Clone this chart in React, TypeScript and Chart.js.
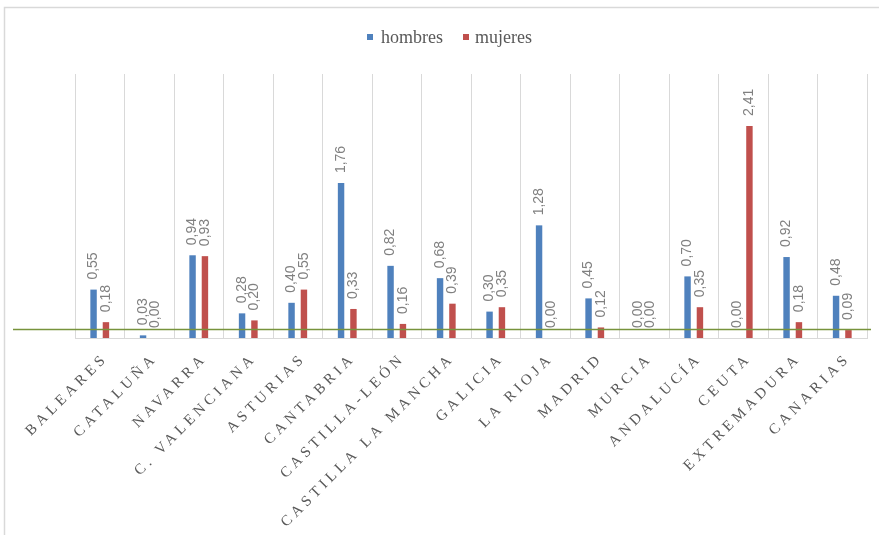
import React, { useEffect, useRef } from "react";
import { Chart, registerables } from "chart.js";

Chart.register(...registerables);

const categories = [
  "BALEARES", "CATALUÑA", "NAVARRA", "C. VALENCIANA", "ASTURIAS", "CANTABRIA",
  "CASTILLA-LEÓN", "CASTILLA LA MANCHA", "GALICIA", "LA RIOJA", "MADRID",
  "MURCIA", "ANDALUCÍA", "CEUTA", "EXTREMADURA", "CANARIAS",
];
const hombres = [0.55, 0.03, 0.94, 0.28, 0.40, 1.76, 0.82, 0.68, 0.30, 1.28, 0.45, 0.00, 0.70, 0.00, 0.92, 0.48];
const mujeres = [0.18, 0.00, 0.93, 0.20, 0.55, 0.33, 0.16, 0.39, 0.35, 0.00, 0.12, 0.00, 0.35, 2.41, 0.18, 0.09];
const seriesNames = ["hombres", "mujeres"];
const referenceValue = 0.1;
const yMax = 3;

const BLUE = "#4F81BD";
const RED = "#C0504D";

const fmt = (v: number) => v.toFixed(2).replace(".", ",");

const decorPlugin = {
  id: "decor",
  beforeDraw(chart: any) {
    const ctx = chart.ctx;
    ctx.save();
    ctx.fillStyle = "#ffffff";
    ctx.fillRect(0, 0, chart.width, chart.height);
    ctx.strokeStyle = "#d9d9d9";
    ctx.lineWidth = 1.5;
    ctx.strokeRect(4.5, 7.5, chart.width + 20, chart.height + 20);
    ctx.restore();
  },
  afterDraw(chart: any) {
    const ctx = chart.ctx;
    const x = chart.scales.x;
    const y = chart.scales.y;
    ctx.save();
    // data labels
    ctx.font = "14px 'Liberation Sans', Arial, sans-serif";
    ctx.fillStyle = "#808080";
    ctx.textAlign = "left";
    ctx.textBaseline = "middle";
    chart.data.datasets.forEach((ds: any, di: number) => {
      const meta = chart.getDatasetMeta(di);
      meta.data.forEach((bar: any, i: number) => {
        ctx.save();
        ctx.translate(bar.x, bar.y - 10);
        ctx.rotate(-Math.PI / 2);
        ctx.fillText(fmt(ds.data[i]), 0, 0);
        ctx.restore();
      });
    });
    // reference line
    const ry = Math.round(y.getPixelForValue(referenceValue)) + 0.5;
    ctx.strokeStyle = "#77933C";
    ctx.lineWidth = 1.5;
    ctx.beginPath();
    ctx.moveTo(13, ry);
    ctx.lineTo(871, ry);
    ctx.stroke();
    // category labels
    ctx.font = "15px 'Liberation Serif', 'Times New Roman', serif";
    (ctx as any).letterSpacing = "4px";
    ctx.fillStyle = "#595959";
    ctx.textAlign = "right";
    ctx.textBaseline = "middle";
    categories.forEach((c, i) => {
      const cx = x.getPixelForValue(i);
      ctx.save();
      ctx.translate(cx + 6, x.bottom + 18);
      ctx.rotate(-Math.PI / 4);
      ctx.fillText(c, 0, 0);
      ctx.restore();
    });
    (ctx as any).letterSpacing = "0px";
    // legend
    ctx.font = "18px 'Liberation Serif', 'Times New Roman', serif";
    ctx.textAlign = "left";
    ctx.textBaseline = "alphabetic";
    ctx.fillStyle = BLUE;
    ctx.fillRect(367, 34, 6, 6);
    ctx.fillStyle = RED;
    ctx.fillRect(463, 34, 6, 6);
    ctx.fillStyle = "#595959";
    ctx.fillText(seriesNames[0], 381, 43);
    ctx.fillText(seriesNames[1], 475, 43);
    ctx.restore();
  },
};

export default function App() {
  const ref = useRef<HTMLCanvasElement>(null);
  useEffect(() => {
    if (!ref.current) return;
    const chart = new Chart(ref.current, {
      type: "bar",
      data: {
        labels: categories,
        datasets: [
          { label: seriesNames[0], data: hombres, backgroundColor: BLUE, categoryPercentage: 0.5, barPercentage: 0.52 },
          { label: seriesNames[1], data: mujeres, backgroundColor: RED, categoryPercentage: 0.5, barPercentage: 0.52 },
        ],
      },
      options: {
        animation: false,
        responsive: false,
        maintainAspectRatio: false,
        layout: { padding: { left: 75, right: 12, top: 74, bottom: 197 } },
        plugins: { legend: { display: false }, tooltip: { enabled: false } },
        scales: {
          x: {
            offset: true,
            ticks: { display: false },
            grid: { display: true, offset: true, color: "#d9d9d9", drawTicks: false, lineWidth: 1 },
            border: { display: true, color: "#d9d9d9", width: 1 },
          },
          y: {
            display: false,
            min: 0,
            max: yMax,
          },
        },
      },
      plugins: [decorPlugin],
    });
    return () => chart.destroy();
  }, []);
  return (
    <div style={{ position: "fixed", left: 0, top: 0, width: 879, height: 535 }}>
      <canvas ref={ref} width={879} height={535} style={{ width: 879, height: 535 }} />
    </div>
  );
}
